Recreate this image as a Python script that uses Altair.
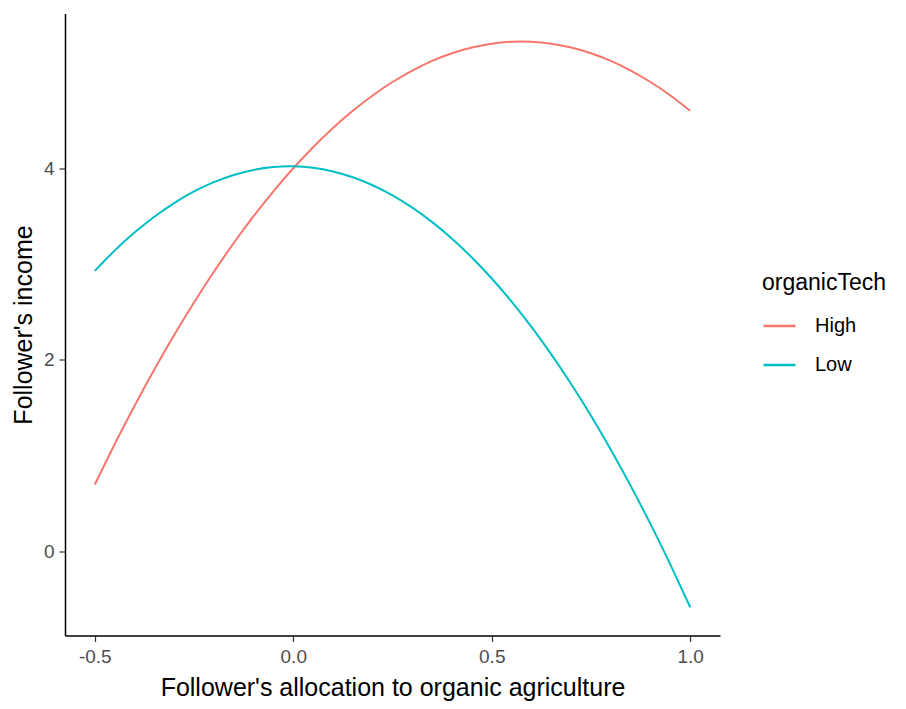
import altair as alt
import pandas as pd

x_vals = [-0.5, -0.45, -0.4, -0.35, -0.3, -0.25, -0.2, -0.15, -0.1, -0.05, 0.0,
          0.05, 0.1, 0.15, 0.2, 0.25, 0.3, 0.35, 0.4, 0.45, 0.5,
          0.55, 0.6, 0.65, 0.7, 0.75, 0.8, 0.85, 0.9, 0.95, 1.0]
high_vals = [0.700, 1.120, 1.520, 1.900, 2.260, 2.600, 2.920, 3.220, 3.500, 3.760, 4.000,
             4.220, 4.420, 4.600, 4.760, 4.900, 5.020, 5.120, 5.200, 5.260, 5.300,
             5.320, 5.320, 5.300, 5.260, 5.200, 5.120, 5.020, 4.900, 4.760, 4.600]
low_vals = [2.930, 3.141, 3.329, 3.494, 3.637, 3.758, 3.855, 3.930, 3.983, 4.013, 4.020,
            4.005, 3.967, 3.906, 3.823, 3.718, 3.589, 3.438, 3.265, 3.069, 2.850,
            2.609, 2.345, 2.058, 1.749, 1.418, 1.063, 0.686, 0.287, -0.135, -0.580]
groups = ["High", "Low"]
colors = ["#F8766D", "#00BFC4"]
x_ticks = [-0.5, 0.0, 0.5, 1.0]
y_ticks = [0, 2, 4]

rows = []
for g, vals in zip(groups, [high_vals, low_vals]):
    for x, y in zip(x_vals, vals):
        rows.append({"x": x, "y": y, "organicTech": g})
df = pd.DataFrame(rows)

FONT = "Liberation Sans"

chart = alt.Chart(df).mark_line(strokeWidth=2, interpolate="natural").encode(
    x=alt.X("x:Q",
            scale=alt.Scale(domain=[-0.575, 1.075], nice=False, zero=False),
            axis=alt.Axis(values=x_ticks,
                          labelExpr="datum.value < 0 ? '-' + format(-datum.value, '.1f') : format(datum.value, '.1f')",
                          title="Follower's allocation to organic agriculture",
                          titlePadding=9, labelPadding=6)),
    y=alt.Y("y:Q",
            scale=alt.Scale(domain=[-0.875, 5.615], nice=False, zero=False),
            axis=alt.Axis(values=y_ticks, format="d", title="Follower's income",
                          titlePadding=7, labelPadding=5)),
    color=alt.Color("organicTech:N",
                    scale=alt.Scale(domain=groups, range=colors),
                    legend=alt.Legend(title="organicTech", orient="none",
                                      legendX=697, legendY=258, padding=0,
                                      symbolType="stroke", symbolSize=1024,
                                      symbolStrokeWidth=2.5, rowPadding=11,
                                      labelOffset=18, titlePadding=14)),
).properties(
    width=655, height=622,
    autosize=alt.AutoSizeParams(type="none"),
    padding={"left": 57, "top": 5.5, "right": 178, "bottom": 65.5},
).configure_view(stroke=None).configure_axis(
    grid=False, domainColor="black", domainWidth=1.5,
    tickColor="#333333", tickSize=6, tickWidth=1.2,
    labelColor="#4D4D4D", labelFontSize=19, labelFont=FONT,
    titleColor="black", titleFontSize=25, titleFont=FONT, titleFontWeight="normal",
).configure_legend(
    titleFont=FONT, titleFontSize=23, titleFontWeight="normal", titleColor="black",
    labelFont=FONT, labelFontSize=20, labelColor="black",
)

chart.save("out.html", embed_options={"renderer": "svg", "actions": False})
